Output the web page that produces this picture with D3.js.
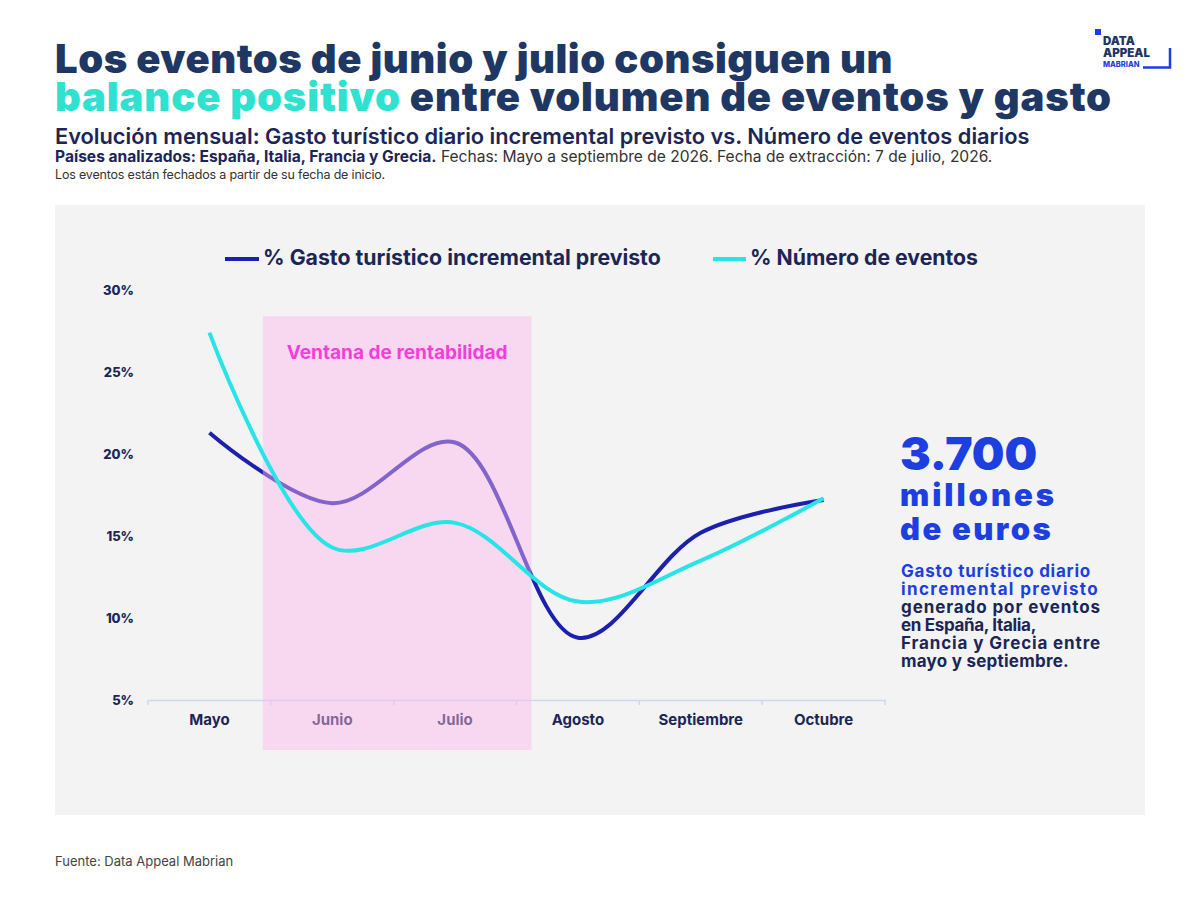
<!DOCTYPE html>
<html>
<head>
<meta charset="utf-8">
<script src="https://cdn.jsdelivr.net/npm/d3@7"></script>
<style>
  body{margin:0;background:#fff;}
  text{font-family:Inter, "Noto Sans", sans-serif;}
</style>
</head>
<body>
<div id="canvas"></div>
<script>
// data
var months = ['Mayo','Junio','Julio','Agosto','Septiembre','Octubre'];
var gasto = [21.3, 17.0, 20.7, 8.8, 15.2, 17.2];
var eventos = [27.4, 14.3, 15.8, 11.0, 13.5, 17.3];
var yTicks = [5, 10, 15, 20, 25, 30];
var windowMonths = ['Junio','Julio'];
var seriesNames = ['% Gasto turístico incremental previsto', '% Número de eventos'];

var W = 1200, H = 900;
var navy = '#1f3763', ink = '#1c2656', blue = '#1d3fe0';
var cGasto = '#1c20ad', cEventos = '#27e4e6';

var svg = d3.select('#canvas').append('svg')
    .attr('width', W).attr('height', H);

svg.append('rect').attr('width', W).attr('height', H).attr('fill', '#fff');

// grow/shrink the font so the text spans w
function fit(sel, w){
    var l = sel.node().getComputedTextLength();
    var fs = parseFloat(sel.attr('font-size'));
    sel.attr('font-size', fs * w / l);
    return sel;
}
// keep the font size, stretch with letter spacing instead
function spread(sel, w){
    var l = sel.node().getComputedTextLength();
    var n = sel.text().length;
    var ls = parseFloat(sel.attr('letter-spacing') || 0);
    sel.attr('letter-spacing', ls + (w - l) / n);
    return sel;
}

// titles
var t1 = svg.append('text').attr('x', 55).attr('y', 73)
    .attr('font-size', 40).attr('font-weight', 900).attr('fill', navy)
    .text('Los eventos de junio y julio consiguen un');
spread(t1, 838);

var t2 = svg.append('text').attr('x', 55).attr('y', 111)
    .attr('font-size', 40).attr('font-weight', 900).attr('fill', navy);
t2.append('tspan').attr('fill', '#2fe2cf').text('balance positivo');
t2.append('tspan').text(' entre volumen de eventos y gasto');
spread(t2, 1057);

fit(svg.append('text').attr('x', 55).attr('y', 144)
    .attr('font-size', 19).attr('font-weight', 600).attr('fill', ink)
    .text('Evolución mensual: Gasto turístico diario incremental previsto vs. Número de eventos diarios'), 975);

var s2 = svg.append('text').attr('x', 55).attr('y', 162)
    .attr('font-size', 14).attr('fill', ink);
s2.append('tspan').attr('font-weight', 700).text('Países analizados: España, Italia, Francia y Grecia.');
s2.append('tspan').attr('font-weight', 400).attr('fill', '#333')
    .text(' Fechas: Mayo a septiembre de 2026. Fecha de extracción: 7 de julio, 2026.');
fit(s2, 938);

spread(svg.append('text').attr('x', 55).attr('y', 179)
    .attr('font-size', 12.5).attr('fill', '#333')
    .text('Los eventos están fechados a partir de su fecha de inicio.'), 330);

// logo
var logo = svg.append('g');
logo.append('rect').attr('x', 1095).attr('y', 29).attr('width', 6).attr('height', 6).attr('fill', blue);
logo.append('text').attr('x', 1103).attr('y', 45).attr('font-size', 11.5).attr('font-weight', 900)
    .attr('fill', navy).text('DATA');
logo.append('text').attr('x', 1103).attr('y', 57).attr('font-size', 11.5).attr('font-weight', 900)
    .attr('fill', navy).text('APPEAL');
logo.append('text').attr('x', 1103).attr('y', 67).attr('font-size', 7.5).attr('font-weight', 800)
    .attr('fill', blue).text('MABRIAN');
logo.append('path').attr('d', 'M1143,67.5 H1170 V48').attr('fill', 'none')
    .attr('stroke', blue).attr('stroke-width', 2.5);

// panel
svg.append('rect').attr('x', 55).attr('y', 205).attr('width', 1090).attr('height', 610)
    .attr('fill', '#f3f3f3');

// scales
var x = d3.scaleBand().domain(months).range([148, 885]);
var y = d3.scaleLinear().domain([5, 30]).range([700, 290]);
var cx = function(m){ return x(m) + x.bandwidth() / 2; };

// legend
var legend = svg.append('g').attr('font-weight', 700).attr('fill', ink);
[[225, 263, 398, cGasto], [713, 750, 228, cEventos]].forEach(function(p, i){
    legend.append('line').attr('x1', p[0]).attr('x2', p[1] - 4).attr('y1', 259).attr('y2', 259)
        .attr('stroke', p[3]).attr('stroke-width', 4);
    fit(legend.append('text').attr('x', p[1]).attr('y', 265).attr('font-size', 18)
        .text(seriesNames[i]), p[2]);
});

// y axis
var yAxis = svg.append('g').attr('transform', 'translate(134,0)')
    .call(d3.axisLeft(y).tickValues(yTicks).tickSize(0).tickPadding(0)
        .tickFormat(function(d){ return d + '%'; }));
yAxis.select('.domain').remove();
yAxis.selectAll('text').attr('font-family', 'Inter, sans-serif').attr('font-size', 13)
    .attr('font-weight', 800).attr('fill', ink);

// x axis
var xAxis = svg.append('g').attr('transform', 'translate(0,700)')
    .call(d3.axisBottom(x).tickSize(0).tickPadding(14));
xAxis.select('.domain').attr('stroke', '#cbd9ef').attr('stroke-width', 1.5);
xAxis.selectAll('text').attr('font-family', 'Inter, sans-serif').attr('font-size', 15)
    .attr('font-weight', 700).attr('fill', ink);
xAxis.selectAll('.bound').data(months.concat([null])).enter().append('line')
    .attr('x1', function(d, i){ return x.range()[0] + i * x.step(); })
    .attr('x2', function(d, i){ return x.range()[0] + i * x.step(); })
    .attr('y1', 0).attr('y2', 5).attr('stroke', '#cbd9ef').attr('stroke-width', 1.5);

var line = d3.line()
    .x(function(d, i){ return cx(months[i]); })
    .y(function(d){ return y(d); })
    .curve(d3.curveCatmullRom.alpha(0.5));

svg.append('path').datum(gasto).attr('d', line).attr('fill', 'none')
    .attr('stroke', cGasto).attr('stroke-width', 4);

// ventana de rentabilidad
var wx0 = x(windowMonths[0]) - 8,
    wx1 = x(windowMonths[1]) + x.bandwidth() + 15;
svg.append('rect').attr('x', wx0).attr('y', y(28.4)).attr('width', wx1 - wx0)
    .attr('height', 750 - y(28.4)).attr('fill', '#ffb8f0').attr('opacity', 0.45);
fit(svg.append('text').attr('x', (wx0 + wx1) / 2).attr('y', 359).attr('text-anchor', 'middle')
    .attr('font-size', 17).attr('font-weight', 700).attr('fill', '#f23fd9')
    .text('Ventana de rentabilidad'), 221);

svg.append('path').datum(eventos).attr('d', line).attr('fill', 'none')
    .attr('stroke', cEventos).attr('stroke-width', 4);

// annotation
var big = [['3.700', 470, 137, 46], ['millones', 506, 157, 31], ['de euros', 540, 153, 31]];
big.forEach(function(b){
    spread(svg.append('text').attr('x', 900).attr('y', b[1]).attr('font-size', b[3])
        .attr('font-weight', 900).attr('fill', blue)
        .text(b[0]), b[2]);
});
var small = [
    ['Gasto turístico diario', blue, 190],
    ['incremental previsto', blue, 198],
    ['generado por eventos', ink, 200],
    ['en España, Italia,', ink, 135],
    ['Francia y Grecia entre', ink, 200],
    ['mayo y septiembre.', ink, 168]
];
small.forEach(function(s, i){
    spread(svg.append('text').attr('x', 901).attr('y', 577 + i * 18).attr('font-size', 17)
        .attr('font-weight', 700).attr('fill', s[1]).text(s[0]), s[2]);
});

// source
svg.append('text').attr('x', 55).attr('y', 866).attr('font-size', 13).attr('fill', '#444')
    .text('Fuente: Data Appeal Mabrian');
</script>
</body>
</html>
